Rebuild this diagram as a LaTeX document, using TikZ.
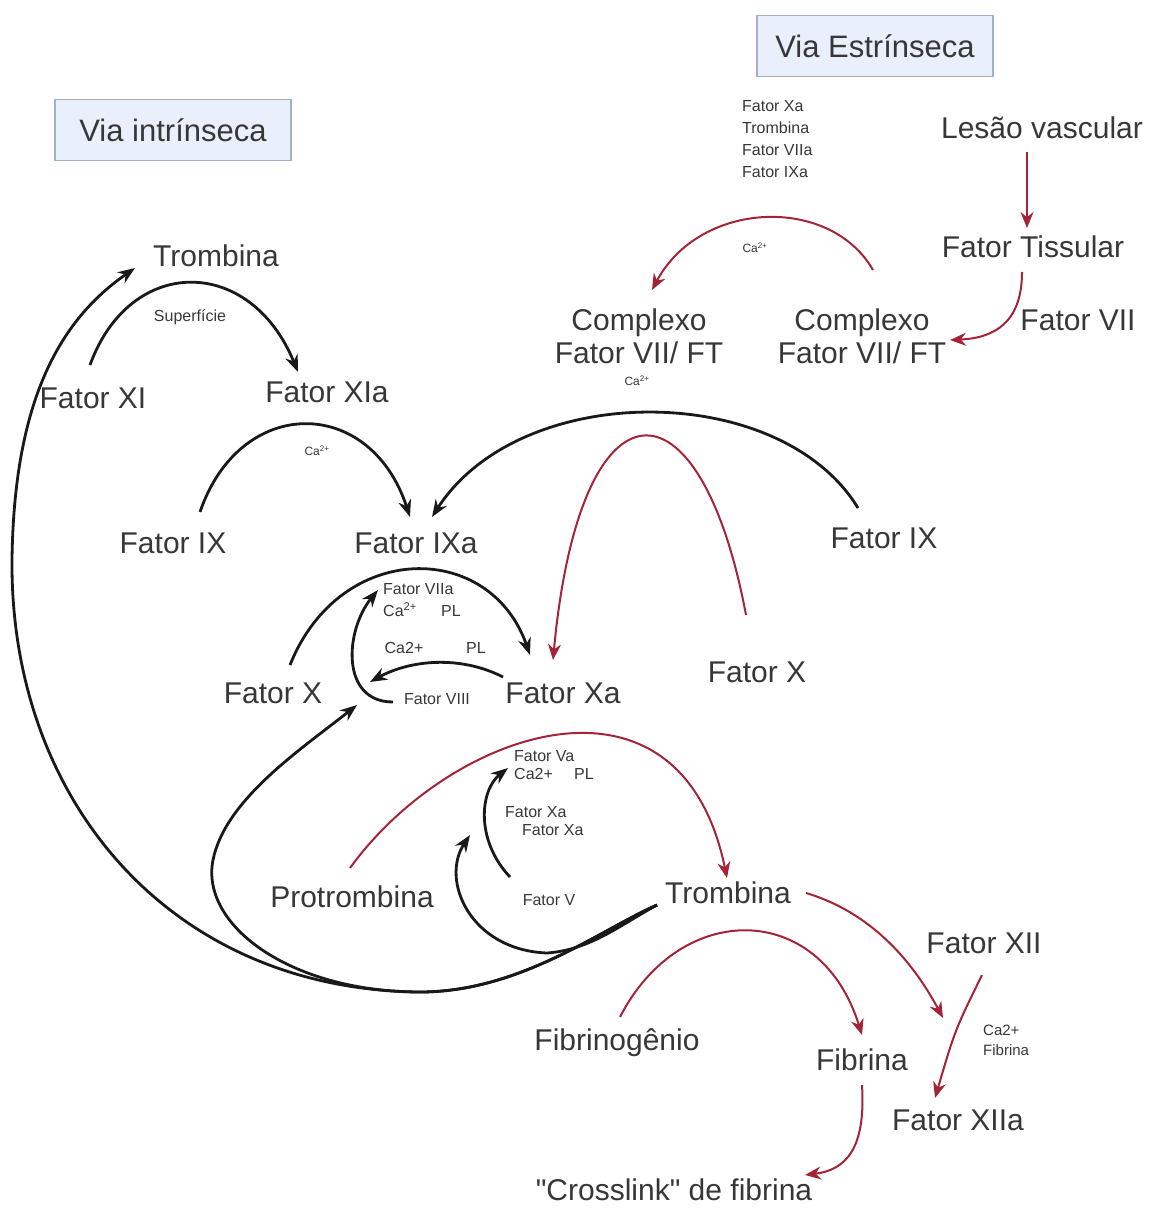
\documentclass[tikz,border=0pt]{standalone}
\usepackage{fontspec}
\setmainfont{Liberation Sans}
\usetikzlibrary{arrows.meta}
\definecolor{txt}{RGB}{55,55,55}
\definecolor{redarr}{RGB}{165,35,55}
\definecolor{boxfill}{RGB}{233,239,251}
\definecolor{boxline}{RGB}{165,175,195}
\begin{document}
\begin{tikzpicture}[x=1pt,y=-1pt,
 big/.style={text=txt,font=\fontsize{30}{33}\selectfont,inner sep=0pt,align=center},
 small/.style={text=txt,font=\fontsize{16}{22}\selectfont,inner sep=0pt,align=left},
 tiny/.style={text=txt,font=\fontsize{12}{14}\selectfont,inner sep=0pt},
 pathbox/.style={draw=boxline,fill=boxfill,line width=1.8pt,minimum width=236pt,minimum height=61pt,text=txt,font=\fontsize{31}{33}\selectfont,inner sep=0pt},
 blk/.style={draw=black!90,line width=2.8pt,-{Stealth[length=17pt,width=13pt]}},
 rd/.style={draw=redarr,line width=2pt,-{Stealth[length=16pt,width=13pt]}}]
\useasboundingbox (0,0) rectangle (1155,1209);

% nodes
\node[pathbox] (vie) at (875,46) {Via Estrínseca};
\node[pathbox] (vii) at (173,130) {Via intrínseca};
\node[big] (lesao) at (1042,128) {Lesão vascular};
\node[big] (tiss) at (1033,247) {Fator Tissular};
\node[big] (f7) at (1078,320) {Fator VII};
\node[big] (cxR) at (862,336) {Complexo\\Fator VII/ FT};
\node[big] (cxL) at (639,336) {Complexo\\Fator VII/ FT};
\node[small,anchor=north west] (cof) at (742,100) {Fator Xa\\Trombina\\Fator VIIa\\Fator IXa};
\node[tiny] (ca1) at (755,248) {Ca\textsuperscript{2+}};
\node[tiny] (ca2) at (637,381) {Ca\textsuperscript{2+}};
\node[big] (trT) at (216,256) {Trombina};
\node[small] (sup) at (190,317) {Superfície};
\node[big] (f11) at (93,398) {Fator XI};
\node[big] (f11a) at (327,392) {Fator XIa};
\node[tiny] (ca3) at (317,451) {Ca\textsuperscript{2+}};
\node[big] (f9L) at (173,543) {Fator IX};
\node[big] (f9a) at (416,543) {Fator IXa};
\node[big] (f9R) at (884,538) {Fator IX};
\node[big] (f10R) at (757,672) {Fator X};
\node[big] (f10L) at (273,693) {Fator X};
\node[big] (f10a) at (563,693) {Fator Xa};
\node[small,anchor=west] (f7a) at (383,589) {Fator VIIa};
\node[small,anchor=west] (ca4) at (383,610) {Ca\textsuperscript{2+}};
\node[small] (pl1) at (451,611) {PL};
\node[small] (ca5) at (404,648) {Ca2+};
\node[small] (pl2) at (476,648) {PL};
\node[small] (f8) at (437,699) {Fator VIII};
\node[small,anchor=west] (f5a) at (514,756) {Fator Va};
\node[small,anchor=west] (ca6) at (514,774) {Ca2+};
\node[small] (pl3) at (584,774) {PL};
\node[small,anchor=west] (xa1) at (505,812) {Fator Xa};
\node[small,anchor=west] (xa2) at (522,830) {Fator Xa};
\node[small] (f5) at (549,900) {Fator V};
\node[big] (prot) at (352,897) {Protrombina};
\node[big] (trB) at (728,893) {Trombina};
\node[big] (f12) at (984,943) {Fator XII};
\node[small,anchor=north west,font=\fontsize{15}{20}\selectfont] (cafib) at (983,1025) {Ca2+\\Fibrina};
\node[big] (fibg) at (617,1043) {Fibrinogênio};
\node[big] (fib) at (862,1060) {Fibrina};
\node[big] (f12a) at (958,1120) {Fator XIIa};
\node[big] (cross) at (674,1190) {\textquotedbl Crosslink\textquotedbl\ de fibrina};

% red connectors
\draw[rd] ([shift={(-15,24)}]lesao.center) -- ([shift={(-6,-19)}]tiss.center);
\draw[rd] ([shift={(-11,25)}]tiss.center) .. controls (1022,322) and (995,338) .. ([shift={(88,4)}]cxR.center);
\draw[rd] ([shift={(11,-66)}]cxR.center) .. controls (830,195) and (700,200) .. ([shift={(13,-46)}]cxL.center);
\draw[rd] ([shift={(-11,-57)}]f10R.center) .. controls (700,370) and (580,370) .. ([shift={(-10,-33)}]f10a.center);
\draw[rd] ([shift={(-2,-29)}]prot.center) .. controls (450,730) and (680,650) .. ([shift={(-1,-15)}]trB.center);
\draw[rd] ([shift={(78,0)}]trB.center) .. controls (870,912) and (912,960) .. ([shift={(-41,75)}]f12.center);
\draw[rd] ([shift={(-2,32)}]f12.center) .. controls (955,1030) .. ([shift={(-23,-22)}]f12a.center);
\draw[rd] ([shift={(3,-26)}]fibg.center) .. controls (680,900) and (820,900) .. ([shift={(0,-25)}]fib.center);
\draw[rd] ([shift={(0,25)}]fib.center) .. controls (866,1150) and (845,1170) .. ([shift={(131,-15)}]cross.center);

% black connectors
\draw[blk] ([shift={(-71,12)}]trB.center) .. controls (600,930) and (520,992) .. (420,992) .. controls (170,990) and (10,800) .. (12,560) .. controls (14,400) and (60,320) .. ([shift={(-81,12)}]trT.center);
\draw[blk] ([shift={(-71,12)}]trB.center) .. controls (600,930) and (520,992) .. (420,992) .. controls (290,992) and (200,925) .. (213,860) .. controls (225,800) and (300,750) .. ([shift={(84,12)}]f10L.center);
\draw[blk] ([shift={(-71,12)}]trB.center) .. controls (620,925) and (590,950) .. (547,953) .. controls (470,950) and (440,880) .. ([shift={(-79,-65)}]f5.center);
\draw[blk] ([shift={(-39,-23)}]f5.center) .. controls (475,840) and (480,790) .. ([shift={(-6,12)}]f5a.west);
\draw[blk] ([shift={(-3,-33)}]f11.center) .. controls (130,255) and (250,255) .. ([shift={(-29,-20)}]f11a.center);
\draw[blk] ([shift={(27,-31)}]f9L.center) .. controls (240,395) and (370,395) .. ([shift={(-6,-26)}]f9a.center);
\draw[blk] ([shift={(-26,-30)}]f9R.center) .. controls (780,380) and (520,380) .. ([shift={(16,-26)}]f9a.center);
\draw[blk] ([shift={(17,-28)}]f10L.center) .. controls (340,540) and (490,540) .. ([shift={(-33,-38)}]f10a.center);
\draw[blk] ([shift={(-60,-16)}]f10a.center) .. controls (460,655) and (410,660) .. ([shift={(-67,-17)}]f8.center);
\draw[blk] ([shift={(-44,3)}]f8.center) .. controls (340,702) and (345,630) .. ([shift={(-5,1)}]f7a.west);
\end{tikzpicture}
\end{document}
